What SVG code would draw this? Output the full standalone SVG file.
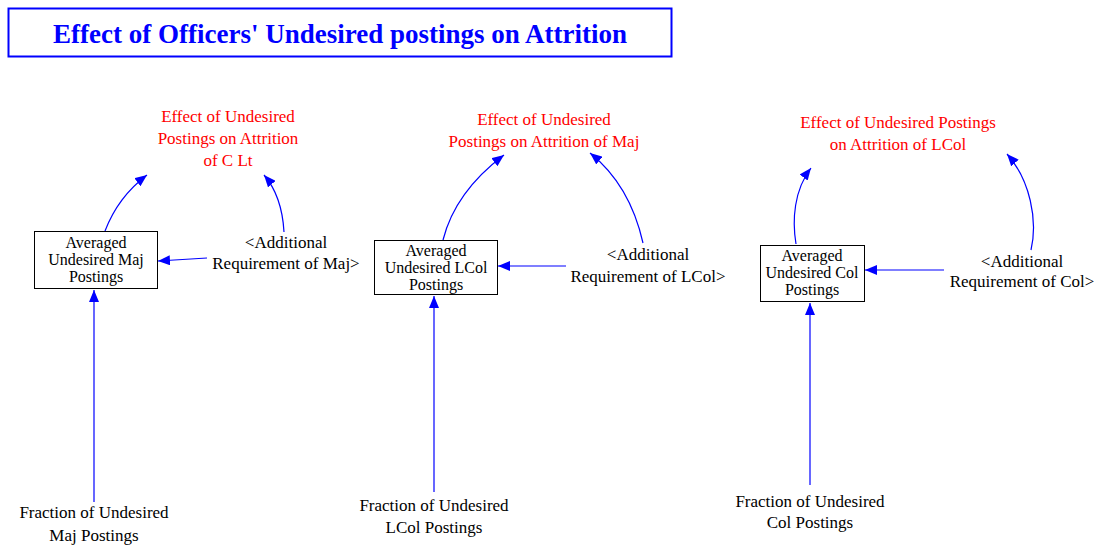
<svg xmlns="http://www.w3.org/2000/svg" width="1096" height="546" viewBox="0 0 1096 546">
  <style>
    text { font-family: "Liberation Serif", Tinos, "Times New Roman", Times, serif; }
    .lbl { font-size: 17px; fill: #000; text-anchor: middle; }
    .inbox { font-size: 16px; }
    .out { fill: #ff0000; }
    .box { fill: #fff; stroke: #000; stroke-width: 1; }
    .link { fill: none; stroke: #0000ff; stroke-width: 1.2; marker-end: url(#arrow); }
    .title { font-size: 27px; font-weight: bold; fill: #0000ff; text-anchor: middle; }
  </style>
  <defs>
    <marker id="arrow" viewBox="0 0 12 10" refX="12" refY="5" markerWidth="12" markerHeight="10" markerUnits="userSpaceOnUse" orient="auto">
      <path d="M0,0 L12,5 L0,10 Z" fill="#0000ff"/>
    </marker>
  </defs>
  <rect width="1096" height="546" fill="#fff"/>

  <g id="title">
    <rect x="8.5" y="8.5" width="663" height="48" fill="#fff" stroke="#0000ff" stroke-width="2"/>
    <text class="title" x="340" y="43">Effect of Officers' Undesired postings on Attrition</text>
  </g>

  <g id="connectors">
    <!-- Maj group -->
    <path class="link" d="M105,231 Q118,197 147,175"/>
    <path class="link" d="M284,232 Q282,196 264,175"/>
    <path class="link" d="M207,258 L158,261"/>
    <path class="link" d="M94,502 L94,290"/>
    <!-- LCol group -->
    <path class="link" d="M443,240 Q455,192 504,155"/>
    <path class="link" d="M643,243 Q630,185 590,153"/>
    <path class="link" d="M566,266 L498,266"/>
    <path class="link" d="M434,492 L434,296"/>
    <!-- Col group -->
    <path class="link" d="M796,244 C792,220 794,190 811,168"/>
    <path class="link" d="M1031,250 C1038,220 1030,180 1007,154"/>
    <path class="link" d="M944,270 L865,270"/>
    <path class="link" d="M810,485 L810,303"/>
  </g>

  <!-- Maj -->
  <g id="effect-clt">
    <text class="lbl out" x="228" y="122">Effect of Undesired</text>
    <text class="lbl out" x="228" y="144">Postings on Attrition</text>
    <text class="lbl out" x="228" y="166">of C Lt</text>
  </g>
  <g id="avg-maj">
    <rect class="box" x="34.5" y="231.5" width="123" height="57"/>
    <text class="lbl inbox" x="96" y="248">Averaged</text>
    <text class="lbl inbox" x="96" y="265">Undesired Maj</text>
    <text class="lbl inbox" x="96" y="282">Postings</text>
  </g>
  <g id="req-maj">
    <text class="lbl" x="286" y="248">&lt;Additional</text>
    <text class="lbl" x="286" y="269">Requirement of Maj&gt;</text>
  </g>
  <g id="frac-maj">
    <text class="lbl" x="94" y="518">Fraction of Undesired</text>
    <text class="lbl" x="94" y="541">Maj Postings</text>
  </g>

  <!-- LCol -->
  <g id="effect-maj">
    <text class="lbl out" x="544" y="125">Effect of Undesired</text>
    <text class="lbl out" x="544" y="147">Postings on Attrition of Maj</text>
  </g>
  <g id="avg-lcol">
    <rect class="box" x="374.5" y="240.5" width="123" height="54"/>
    <text class="lbl inbox" x="436" y="256">Averaged</text>
    <text class="lbl inbox" x="436" y="273">Undesired LCol</text>
    <text class="lbl inbox" x="436" y="290">Postings</text>
  </g>
  <g id="req-lcol">
    <text class="lbl" x="648" y="260">&lt;Additional</text>
    <text class="lbl" x="648" y="282">Requirement of LCol&gt;</text>
  </g>
  <g id="frac-lcol">
    <text class="lbl" x="434" y="511">Fraction of Undesired</text>
    <text class="lbl" x="434" y="533">LCol Postings</text>
  </g>

  <!-- Col -->
  <g id="effect-lcol">
    <text class="lbl out" x="898" y="128">Effect of Undesired Postings</text>
    <text class="lbl out" x="898" y="150">on Attrition of LCol</text>
  </g>
  <g id="avg-col">
    <rect class="box" x="760.5" y="245.5" width="104" height="56"/>
    <text class="lbl inbox" x="812" y="261">Averaged</text>
    <text class="lbl inbox" x="812" y="278">Undesired Col</text>
    <text class="lbl inbox" x="812" y="295">Postings</text>
  </g>
  <g id="req-col">
    <text class="lbl" x="1022" y="267">&lt;Additional</text>
    <text class="lbl" x="1022" y="287">Requirement of Col&gt;</text>
  </g>
  <g id="frac-col">
    <text class="lbl" x="810" y="507">Fraction of Undesired</text>
    <text class="lbl" x="810" y="528">Col Postings</text>
  </g>
</svg>
